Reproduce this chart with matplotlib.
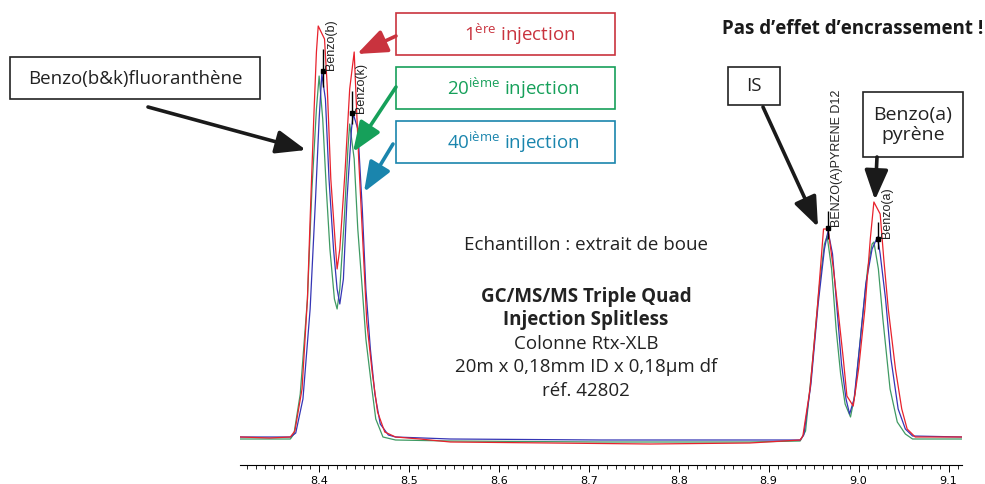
import matplotlib
matplotlib.use("Agg")
import matplotlib.pyplot as plt
from matplotlib.patches import Rectangle, FancyArrowPatch
from matplotlib.ticker import MultipleLocator

# retention time (min) / abundance (arbitrary units)
rt_1 = [8.312, 8.345, 8.368, 8.373, 8.381, 8.387, 8.390, 8.394, 8.397, 8.399, 8.406, 8.409,
        8.413, 8.418, 8.420, 8.423, 8.429, 8.434, 8.439, 8.444, 8.449, 8.453, 8.459, 8.465,
        8.473, 8.485, 8.512, 8.546, 8.657, 8.768, 8.879, 8.935, 8.938, 8.946, 8.954, 8.961,
        8.966, 8.972, 8.977, 8.983, 8.987, 8.994, 9.000, 9.007, 9.013, 9.017, 9.024, 9.028,
        9.033, 9.041, 9.048, 9.054, 9.063, 9.115]
ab_1 = [2, 1, 2, 8, 50, 140, 220, 320, 387, 413, 400, 353,
        260, 195, 170, 190, 270, 350, 387, 280, 190, 117, 67, 27,
        7, 2, 0, -3, -4, -5, -4, -1, 3, 50, 130, 210,
        210, 170, 130, 80, 43, 33, 70, 130, 200, 237, 225, 180,
        130, 70, 30, 10, 2, 2]

rt_20 = [8.312, 8.368, 8.372, 8.379, 8.387, 8.392, 8.397, 8.400, 8.404, 8.408, 8.412, 8.417,
         8.420, 8.423, 8.428, 8.432, 8.434, 8.439, 8.443, 8.448, 8.452, 8.458, 8.463, 8.471,
         8.485, 8.546, 8.713, 8.879, 8.935, 8.941, 8.948, 8.956, 8.962, 8.965, 8.970, 8.975,
         8.980, 8.985, 8.991, 8.996, 9.003, 9.010, 9.015, 9.017, 9.022, 9.027, 9.035, 9.043,
         9.052, 9.060, 9.115]
ab_20 = [0, 0, 5, 45, 140, 250, 330, 363, 320, 250, 190, 140,
         130, 150, 220, 290, 315, 280, 210, 150, 100, 55, 20, 2,
         -1, -2, -3, -3, -2, 8, 70, 150, 195, 203, 170, 110,
         65, 35, 22, 45, 110, 170, 195, 197, 170, 120, 50, 17,
         5, 0, 0]

rt_40 = [8.312, 8.368, 8.374, 8.382, 8.390, 8.396, 8.400, 8.403, 8.407, 8.411, 8.416, 8.420,
         8.423, 8.427, 8.431, 8.436, 8.438, 8.443, 8.448, 8.452, 8.457, 8.462, 8.468, 8.477,
         8.485, 8.546, 8.713, 8.879, 8.935, 8.939, 8.947, 8.955, 8.962, 8.966, 8.971, 8.976,
         8.981, 8.986, 8.990, 8.995, 9.002, 9.008, 9.015, 9.021, 9.024, 9.030, 9.036, 9.044,
         9.052, 9.060, 9.115]
ab_40 = [2, 2, 6, 40, 130, 240, 320, 365, 340, 260, 190, 150,
         135, 160, 240, 310, 325, 310, 230, 150, 90, 45, 15, 4,
         2, 0, -1, -1, -1, 4, 55, 135, 190, 208, 185, 130,
         75, 40, 25, 40, 100, 155, 190, 202, 185, 140, 80, 30,
         10, 3, 2]

# integration markers (apex retention time, marker top / bottom, dot, label base)
peak_names = ["Benzo(b)", "Benzo(k)", "BENZO(A)PYRENE D12", "Benzo(a)"]
peak_rt = [8.404, 8.437, 8.966, 9.022]
peak_top = [390, 348, 228, 217]
peak_low = [352, 315, 200, 190]
peak_dot = [368, 326, 211, 200]
label_base = [370, 327, 213, 202]

FONT = "Open Sans"
plt.rcParams["font.family"] = [FONT, "DejaVu Sans"]
plt.rcParams["mathtext.fontset"] = "custom"
plt.rcParams["mathtext.rm"] = FONT

fig = plt.figure(figsize=(9.85, 4.85), dpi=100)
ax = fig.add_axes([240 / 985, 19 / 485, 722 / 985, 466 / 485])

ax.plot(rt_20, ab_20, color="#3f9a63", lw=0.9)
ax.plot(rt_40, ab_40, color="#3535b5", lw=0.9)
ax.plot(rt_1, ab_1, color="#e8222c", lw=0.9)

ax.vlines(peak_rt, peak_low, peak_top, color="black", lw=1.0)
ax.plot(peak_rt, peak_dot, "s", color="black", ms=2.5)
for name, rt, base in zip(peak_names, peak_rt, label_base):
    ax.text(rt + 0.003, base, name, rotation=90, ha="left", va="bottom",
            fontsize=9, family="Liberation Sans", color="#222222")

ax.set_xlim(8.312, 9.115)
ax.set_ylim(-26, 440)
for s in ["left", "right", "top"]:
    ax.spines[s].set_visible(False)
ax.spines["bottom"].set_linewidth(0.8)
ax.set_yticks([])
ax.xaxis.set_major_locator(MultipleLocator(0.1))
ax.xaxis.set_minor_locator(MultipleLocator(0.01))
ax.tick_params(axis="x", which="major", length=5, width=0.7, pad=2, labelsize=8)
ax.tick_params(axis="x", which="minor", length=3, width=0.6)
for lab in ax.get_xticklabels():
    lab.set_family("Liberation Sans Narrow")


def fx(px):
    return px / 985


def fy(py):
    return 1 - py / 485


def box(x0, y0, x1, y1, color):
    fig.patches.append(Rectangle((fx(x0), fy(y1)), fx(x1) - fx(x0), fy(y0) - fy(y1),
                                 transform=fig.transFigure, fill=True, facecolor="white",
                                 edgecolor=color, lw=1.2, zorder=5))


def arrow(p0, p1, color, lw=2.6):
    fig.patches.append(FancyArrowPatch((fx(p0[0]), fy(p0[1])), (fx(p1[0]), fy(p1[1])),
                                       transform=fig.transFigure, color=color, lw=lw,
                                       arrowstyle="-|>,head_length=1.4,head_width=0.55",
                                       mutation_scale=13, shrinkA=0, shrinkB=0, zorder=6))


RED = "#c9333e"
GREEN = "#16a05a"
TEAL = "#1a85ad"
INK = "#222222"
FS = 13.5

box(10, 58, 260, 100, INK)
fig.text(fx(135), fy(79), "Benzo(b&k)fluoranthène", ha="center", va="center",
         fontsize=FS, color=INK, zorder=7)
arrow((148, 108), (306, 151), "#1a1a1a")

box(396, 14, 615, 56, RED)
fig.text(fx(520), fy(34), r"$\mathregular{1^{ère}}$ injection", ha="center", va="center",
         fontsize=FS, color=RED, zorder=7)
arrow((396, 37), (357, 55), RED)

box(396, 68, 615, 110, GREEN)
fig.text(fx(513), fy(88), r"$\mathregular{20^{ième}}$ injection", ha="center", va="center",
         fontsize=FS, color=GREEN, zorder=7)
arrow((396, 88), (353, 153), GREEN)

box(396, 122, 615, 164, TEAL)
fig.text(fx(513), fy(142), r"$\mathregular{40^{ième}}$ injection", ha="center", va="center",
         fontsize=FS, color=TEAL, zorder=7)
arrow((393, 145), (364, 193), TEAL)

fig.text(fx(722), fy(29), "Pas d\u2019effet d\u2019encrassement !", ha="left", va="center",
         fontsize=FS, fontweight="bold", color="#1a1a1a")

box(728, 68, 780, 106, INK)
fig.text(fx(754), fy(86), "IS", ha="center", va="center", fontsize=FS,
         color=INK, zorder=7)
arrow((763, 108), (818, 228), "#1a1a1a")

box(863, 93, 963, 158, INK)
fig.text(fx(913), fy(125), "Benzo(a)\npyrène", ha="center", va="center", fontsize=14,
         color=INK, linespacing=1.1, zorder=7)
arrow((877, 158), (875, 201), "#1a1a1a")

cx = fx(586)
fig.text(cx, fy(245), "Echantillon : extrait de boue", ha="center", va="center",
         fontsize=FS, color=INK)
fig.text(cx, fy(297), "GC/MS/MS Triple Quad", ha="center", va="center",
         fontsize=FS, fontweight="bold", color=INK)
fig.text(cx, fy(320), "Injection Splitless", ha="center", va="center",
         fontsize=FS, fontweight="bold", color=INK)
fig.text(cx, fy(344), "Colonne Rtx-XLB", ha="center", va="center",
         fontsize=FS, color=INK)
fig.text(cx, fy(367), "20m x 0,18mm ID x 0,18µm df", ha="center", va="center",
         fontsize=FS, color=INK)
fig.text(cx, fy(391), "réf. 42802", ha="center", va="center",
         fontsize=FS, color=INK)

fig.savefig("out.png", dpi=100)
